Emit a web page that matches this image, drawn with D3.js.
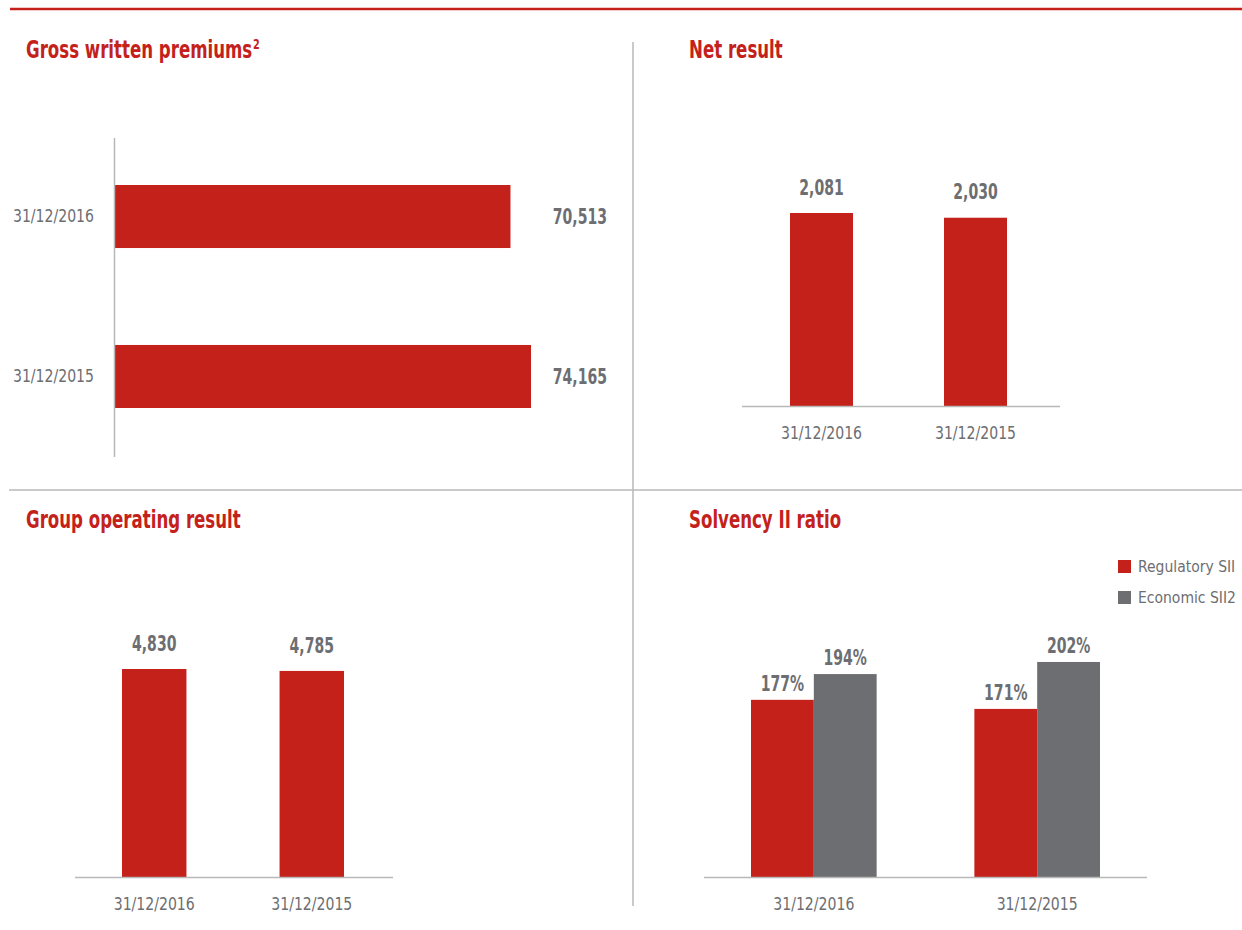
<!DOCTYPE html>
<html>
<head>
<meta charset="utf-8">
<script src="https://cdn.jsdelivr.net/npm/d3@7/dist/d3.min.js"></script>
<style>
  html, body { margin: 0; padding: 0; background: #ffffff; }
  svg { display: block; }
  text { font-family: "DejaVu Sans Condensed", "DejaVu Sans", sans-serif; }
</style>
</head>
<body>
<svg id="chart" width="1242" height="930"></svg>
<script>
// ---------- DATA ----------
const categories = ["31/12/2016", "31/12/2015"];
const grossPremiums = [70513, 74165];
const netResult = [2081, 2030];
const operatingResult = [4830, 4785];
const solvencySeries = ["Regulatory SII", "Economic SII2"];
const solvencyRegulatory = [177, 171];
const solvencyEconomic = [194, 202];
const titles = ["Gross written premiums", "Net result", "Group operating result", "Solvency II ratio"];

// ---------- STYLE ----------
const RED = "#c4211b";
const GREY = "#6d6e71";
const LINE = "#b8b8b8";
const fmt = d3.format(",");
// horizontal condensing factors (reference uses a condensed face)
const SX_TITLE = 0.77, SX_VAL = 0.71, SX_CAT = 0.92, SX_LEG = 0.97;

const svg = d3.select("#chart");
const tf = (x, y, s) => `translate(${x},${y}) scale(${s},1)`;

// frame lines
svg.append("line").attr("x1", 10).attr("x2", 1242).attr("y1", 9).attr("y2", 9)
  .attr("stroke", RED).attr("stroke-width", 2.5);
svg.append("line").attr("x1", 9).attr("x2", 1242).attr("y1", 490).attr("y2", 490)
  .attr("stroke", LINE).attr("stroke-width", 1.5);
svg.append("line").attr("x1", 633).attr("x2", 633).attr("y1", 42).attr("y2", 906)
  .attr("stroke", LINE).attr("stroke-width", 1.5);

function title(x, y, txt, sup) {
  const t = svg.append("text").attr("transform", tf(x, y, SX_TITLE))
    .attr("fill", RED).attr("font-weight", "bold").attr("font-size", 24).text(txt);
  if (sup) {
    t.append("tspan").attr("font-size", 14).attr("dy", -9).attr("dx", 1).text(sup);
  }
}
title(26, 58, titles[0], "2");
title(689, 58, titles[1]);
title(26, 528, titles[2]);
title(689, 528, titles[3]);

// ---------- Panel 1: Gross written premiums (horizontal bars) ----------
{
  const g = svg.append("g");
  const y = d3.scaleBand().domain(categories).range([185, 408]).paddingInner(0.606);
  const x = d3.scaleLinear().domain([0, 74165]).range([114, 531]);
  const data = categories.map((c, i) => ({ c, v: grossPremiums[i] }));
  g.selectAll("rect").data(data).join("rect")
    .attr("x", x(0)).attr("y", d => y(d.c))
    .attr("width", d => x(d.v) - x(0)).attr("height", y.bandwidth())
    .attr("fill", RED);
  g.append("line").attr("x1", 114.5).attr("x2", 114.5).attr("y1", 138).attr("y2", 457)
    .attr("stroke", LINE).attr("stroke-width", 1.5);
  g.selectAll(".cat").data(data).join("text").attr("class", "cat")
    .attr("transform", d => tf(94, y(d.c) + y.bandwidth() / 2, SX_CAT)).attr("dy", "0.35em")
    .attr("text-anchor", "end").attr("fill", GREY).attr("font-size", 17).text(d => d.c);
  g.selectAll(".val").data(data).join("text").attr("class", "val")
    .attr("transform", d => tf(607, y(d.c) + y.bandwidth() / 2, SX_VAL)).attr("dy", "0.35em")
    .attr("text-anchor", "end").attr("fill", GREY).attr("font-weight", "bold")
    .attr("font-size", 22).text(d => fmt(d.v));
}

// ---------- vertical single-series panels ----------
function columnPanel(values, xRange, base, topForMax, lineX) {
  const g = svg.append("g");
  const x = d3.scaleBand().domain(categories).range(xRange).paddingInner(0.591);
  const y = d3.scaleLinear().domain([0, d3.max(values)]).range([base, topForMax]);
  const data = categories.map((c, i) => ({ c, v: values[i] }));
  g.selectAll("rect").data(data).join("rect")
    .attr("x", d => x(d.c)).attr("y", d => y(d.v))
    .attr("width", x.bandwidth()).attr("height", d => y(0) - y(d.v))
    .attr("fill", RED);
  g.append("line").attr("x1", lineX[0]).attr("x2", lineX[1]).attr("y1", base + 0.5).attr("y2", base + 0.5)
    .attr("stroke", LINE).attr("stroke-width", 1.5);
  g.selectAll(".val").data(data).join("text").attr("class", "val")
    .attr("transform", d => tf(x(d.c) + x.bandwidth() / 2, y(d.v) - 26, SX_VAL)).attr("dy", "0.35em")
    .attr("text-anchor", "middle").attr("fill", GREY).attr("font-weight", "bold")
    .attr("font-size", 22).text(d => fmt(d.v));
  g.selectAll(".cat").data(data).join("text").attr("class", "cat")
    .attr("transform", d => tf(x(d.c) + x.bandwidth() / 2, base + 27, SX_CAT)).attr("dy", "0.35em")
    .attr("text-anchor", "middle").attr("fill", GREY).attr("font-size", 17).text(d => d.c);
}
columnPanel(netResult, [790, 1007], 406, 213, [742, 1060]);
columnPanel(operatingResult, [122, 344], 877, 669, [75, 393]);

// ---------- Panel 4: Solvency II ratio (grouped) ----------
{
  const g = svg.append("g");
  const base = 877;
  const x0 = d3.scaleBand().domain(categories).range([751, 1100]).paddingInner(0.4375);
  const x1 = d3.scaleBand().domain(solvencySeries).range([0, x0.bandwidth()]);
  const y = d3.scaleLinear().domain([60, 200]).range([base, base - 212]);
  const color = d3.scaleOrdinal().domain(solvencySeries).range([RED, GREY]);
  const groups = categories.map((c, i) => ({
    c, vals: [
      { s: solvencySeries[0], v: solvencyRegulatory[i] },
      { s: solvencySeries[1], v: solvencyEconomic[i] }
    ]
  }));
  const gg = g.selectAll(".grp").data(groups).join("g").attr("class", "grp")
    .attr("transform", d => `translate(${x0(d.c)},0)`);
  gg.selectAll("rect").data(d => d.vals).join("rect")
    .attr("x", d => x1(d.s)).attr("y", d => y(d.v))
    .attr("width", x1.bandwidth()).attr("height", d => base - y(d.v))
    .attr("fill", d => color(d.s));
  gg.selectAll(".val").data(d => d.vals).join("text").attr("class", "val")
    .attr("transform", d => tf(x1(d.s) + x1.bandwidth() / 2, y(d.v) - 17, SX_VAL)).attr("dy", "0.35em")
    .attr("text-anchor", "middle").attr("fill", GREY).attr("font-weight", "bold")
    .attr("font-size", 22).text(d => d.v + "%");
  g.append("line").attr("x1", 704).attr("x2", 1147).attr("y1", base + 0.5).attr("y2", base + 0.5)
    .attr("stroke", LINE).attr("stroke-width", 1.5);
  g.selectAll(".cat").data(categories).join("text").attr("class", "cat")
    .attr("transform", d => tf(x0(d) + x0.bandwidth() / 2, base + 27, SX_CAT)).attr("dy", "0.35em")
    .attr("text-anchor", "middle").attr("fill", GREY).attr("font-size", 17).text(d => d);

  // legend
  const lg = g.selectAll(".lg").data(solvencySeries).join("g").attr("class", "lg")
    .attr("transform", (d, i) => `translate(1118,${560 + i * 31})`);
  lg.append("rect").attr("width", 13).attr("height", 13).attr("fill", d => color(d));
  lg.append("text").attr("transform", tf(20, 6.5, SX_LEG)).attr("dy", "0.35em")
    .attr("fill", GREY).attr("font-size", 16).text(d => d);
}
</script>
</body>
</html>
